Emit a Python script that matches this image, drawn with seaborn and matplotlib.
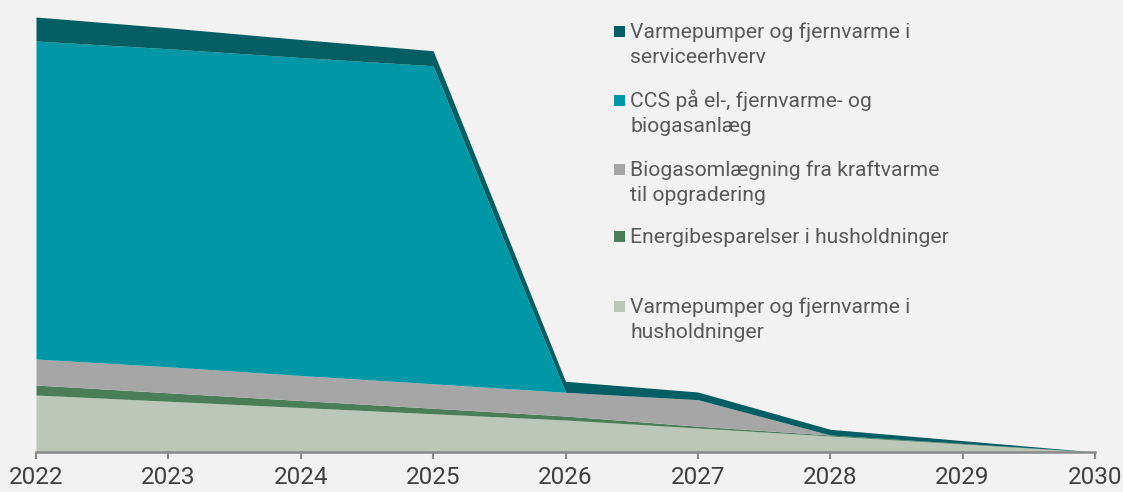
import matplotlib
matplotlib.use("Agg")
import matplotlib.pyplot as plt
from matplotlib.patches import Rectangle
import seaborn as sns
import numpy as np

years = [2022, 2023, 2024, 2025, 2026, 2027, 2028, 2029, 2030]

# Stacked layers, bottom to top
varme_hush = [57, 50.75, 44.5, 38.25, 32, 24, 16, 8, 0]
energi_hush = [10, 8.5, 7, 5.5, 4, 1.8, 1, 0.6, 0]
biogas = [26, 26, 25, 24.5, 23.7, 26.5, 0, 0, 0]
ccs = [318, 318, 318, 318, 0, 0, 0, 0, 0]
varme_service = [24, 21, 18, 15, 11, 7.7, 5.7, 2.8, 0]

labels = [
    "Varmepumper og fjernvarme i\nhusholdninger",
    "Energibesparelser i husholdninger",
    "Biogasomlægning fra kraftvarme\ntil opgradering",
    "CCS på el-, fjernvarme- og\nbiogasanlæg",
    "Varmepumper og fjernvarme i\nserviceerhverv",
]
colors = ["#bbc7b7", "#4b7d59", "#a6a6a6", "#0098a6", "#045e63"]

sns.set_theme(style="white")
plt.rcParams["font.family"] = ["Roboto", "DejaVu Sans"]

W, H = 1123, 492
fig = plt.figure(figsize=(W / 100, H / 100), dpi=100, facecolor="#f2f2f2")
x0, x1 = 36, 1095
y_base, y_top = 452, 17
ax = fig.add_axes([x0 / W, (H - y_base) / H, (x1 - x0) / W, (y_base - y_top) / H])
ax.set_facecolor("#f2f2f2")

series = [varme_hush, energi_hush, biogas, ccs, varme_service]
ax.stackplot(years, *series, colors=colors, linewidth=0, antialiased=True)

total0 = sum(s[0] for s in series)
ax.set_xlim(years[0], years[-1])
ax.set_ylim(0, total0)
ax.set_xticks(years)
ax.set_xticklabels([str(y) for y in years], fontsize=17.5, color="#404040")
ax.set_yticks([])
sns.despine(ax=ax, left=True, top=True, right=True)
ax.spines["bottom"].set_color("#898989")
ax.spines["bottom"].set_linewidth(1.8)
ax.tick_params(axis="x", direction="out", length=5, width=1.5, color="#898989",
               pad=5, bottom=True)

# Legend, top layer first
first_baselines = [38, 107, 176, 243, 313]
line_gap = 25
sq = 11
for lab, col, yb in zip(labels[::-1], colors[::-1], first_baselines):
    cy = yb - 7
    fig.patches.append(Rectangle((614 / W, (H - cy - sq / 2) / H), sq / W, sq / H,
                                 transform=fig.transFigure, facecolor=col,
                                 edgecolor="none"))
    for i, line in enumerate(lab.split("\n")):
        fig.text(630 / W, (H - (yb + i * line_gap)) / H, line, fontsize=15.2,
                 color="#595959", va="baseline", ha="left")

fig.savefig("out.png", dpi=100, facecolor=fig.get_facecolor())
